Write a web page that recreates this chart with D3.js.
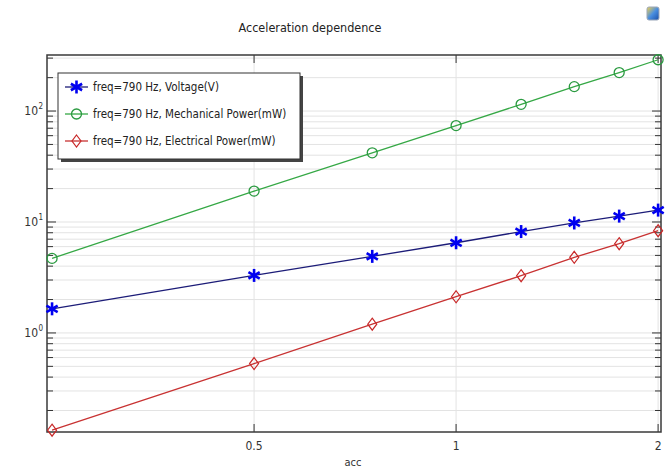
<!DOCTYPE html>
<html>
<head>
<meta charset="utf-8">
<script src="https://cdn.jsdelivr.net/npm/d3@7"></script>
<style>
  body { margin: 0; background: #fff; }
  svg { display: block; font-family: "DejaVu Sans Condensed", "DejaVu Sans", sans-serif; }
</style>
</head>
<body>
<div id="chart"></div>
<script>
'use strict';

/*** Data */
const acc = [0.25, 0.5, 0.75, 1, 1.25, 1.5, 1.75, 2];
const voltage = [1.65, 3.3, 4.9, 6.5, 8.2, 9.8, 11.3, 12.8];
const mechPower = [4.7, 19, 42, 74, 115, 166, 222, 290];
const elecPower = [0.133, 0.53, 1.2, 2.12, 3.28, 4.8, 6.37, 8.35];

const seriesNames = [
    'freq=790 Hz, Voltage(V)',
    'freq=790 Hz, Mechanical Power(mW)',
    'freq=790 Hz, Electrical Power(mW)'
];
const xTicks = [0.5, 1, 2];
const xTickLabels = ['0.5', '1', '2'];
const yTicks = [1, 10, 100];
const yTickExp = ['0', '1', '2'];

/*** Layout */
const w = 669;
const h = 471;
const pLeft = 47, pRight = 661, pTop = 55, pBottom = 432;

const svg = d3.select('#chart').append('svg')
    .attr('width', w)
    .attr('height', h);

/* Scales */
const xScale = d3.scaleLog().domain([0.2457, 2.02]).range([pLeft, pRight]);
const yScale = d3.scaleLog().domain([0.128, 320]).range([pBottom, pTop]);

/* minor log ticks inside the y domain */
const yMinor = [];
[0.1, 1, 10, 100].forEach(d => {
    for (let k = 1; k <= 9; k++) {
        const v = d * k;
        if (v >= yScale.domain()[0] && v <= yScale.domain()[1]) yMinor.push(v);
    }
});

/** Grid */
svg.append('g').selectAll('line')
    .data(yMinor)
    .join('line')
    .attr('x1', pLeft).attr('x2', pRight)
    .attr('y1', d => yScale(d)).attr('y2', d => yScale(d))
    .attr('stroke', '#e3e3e3')
    .attr('stroke-width', 1);

svg.append('g').selectAll('line')
    .data(xTicks)
    .join('line')
    .attr('x1', d => xScale(d)).attr('x2', d => xScale(d))
    .attr('y1', pTop).attr('y2', pBottom)
    .attr('stroke', '#e3e3e3')
    .attr('stroke-width', 1);

/** Ticks (inward, on all four sides) */
const isMajor = v => yTicks.some(t => Math.abs(t - v) < 1e-9);
const tickG = svg.append('g').attr('stroke', '#333').attr('stroke-width', 1);
tickG.selectAll('.yl')
    .data(yMinor)
    .join('line')
    .attr('x1', pLeft).attr('x2', d => pLeft + (isMajor(d) ? 9 : 6))
    .attr('y1', d => yScale(d)).attr('y2', d => yScale(d));
tickG.selectAll('.yr')
    .data(yMinor)
    .join('line')
    .attr('x1', pRight).attr('x2', d => pRight - (isMajor(d) ? 9 : 6))
    .attr('y1', d => yScale(d)).attr('y2', d => yScale(d));
tickG.selectAll('.xb')
    .data(xTicks)
    .join('line')
    .attr('x1', d => xScale(d)).attr('x2', d => xScale(d))
    .attr('y1', pBottom).attr('y2', pBottom - 8);
tickG.selectAll('.xt')
    .data(xTicks)
    .join('line')
    .attr('x1', d => xScale(d)).attr('x2', d => xScale(d))
    .attr('y1', pTop).attr('y2', pTop + 8);

/** Frame */
svg.append('rect')
    .attr('x', pLeft).attr('y', pTop)
    .attr('width', pRight - pLeft).attr('height', pBottom - pTop)
    .attr('fill', 'none')
    .attr('stroke', '#3a3a3a')
    .attr('stroke-width', 1.5);

/** Tick labels */
svg.append('g').selectAll('text')
    .data(xTicks)
    .join('text')
    .attr('x', d => xScale(d))
    .attr('y', pBottom + 18)
    .attr('text-anchor', 'middle')
    .attr('font-size', 12)
    .attr('fill', '#333')
    .text((d, i) => xTickLabels[i]);

svg.append('g').selectAll('text')
    .data(yTicks)
    .join('text')
    .attr('x', 38)
    .attr('y', d => yScale(d) + 4)
    .attr('text-anchor', 'end')
    .attr('font-size', 12)
    .attr('fill', '#333')
    .text('10');
svg.append('g').selectAll('text')
    .data(yTicks)
    .join('text')
    .attr('x', 38.5)
    .attr('y', d => yScale(d) - 2)
    .attr('font-size', 8)
    .attr('fill', '#333')
    .text((d, i) => yTickExp[i]);

/** Axis title and chart title */
svg.append('text')
    .attr('x', 353).attr('y', 466)
    .attr('text-anchor', 'middle')
    .attr('font-size', 11)
    .attr('fill', '#333')
    .text('acc');

svg.append('text')
    .attr('x', 310).attr('y', 32)
    .attr('text-anchor', 'middle')
    .attr('font-size', 12.5)
    .attr('fill', '#222')
    .text('Acceleration dependence');

/* little toolbar icon at the top right */
const grad = svg.append('defs').append('linearGradient')
    .attr('id', 'icon').attr('x1', 0).attr('y1', 0).attr('x2', 1).attr('y2', 1);
grad.append('stop').attr('offset', 0).attr('stop-color', '#f6d24a');
grad.append('stop').attr('offset', 0.5).attr('stop-color', '#4a8fe0');
grad.append('stop').attr('offset', 1).attr('stop-color', '#1a4fa8');
svg.append('rect')
    .attr('x', 647).attr('y', 7).attr('width', 12).attr('height', 13)
    .attr('rx', 2)
    .attr('fill', 'url(#icon)')
    .attr('stroke', '#9aa6b8');

/** Series */
const series = [
    { name: seriesNames[0], values: voltage, line: '#1c1c78', mark: '#0000f0', shape: 'star' },
    { name: seriesNames[1], values: mechPower, line: '#35a845', mark: '#2a9a40', shape: 'circle' },
    { name: seriesNames[2], values: elecPower, line: '#c83232', mark: '#c82828', shape: 'diamond' }
];

const lineGen = d3.line()
    .x((d, i) => xScale(acc[i]))
    .y(d => yScale(d));

function drawMarker(g, shape, color, x, y) {
    if (shape === 'star') {
        const r = 6.5;
        [90, 30, 150].forEach(a => {
            const rad = a * Math.PI / 180;
            g.append('line')
                .attr('x1', x - r * Math.cos(rad)).attr('y1', y - r * Math.sin(rad))
                .attr('x2', x + r * Math.cos(rad)).attr('y2', y + r * Math.sin(rad))
                .attr('stroke', color).attr('stroke-width', 2.6);
        });
    } else if (shape === 'circle') {
        g.append('circle')
            .attr('cx', x).attr('cy', y).attr('r', 5)
            .attr('fill', 'none').attr('stroke', color).attr('stroke-width', 1.3);
    } else {
        g.append('path')
            .attr('d', `M${x},${y - 6}L${x + 4.5},${y}L${x},${y + 6}L${x - 4.5},${y}Z`)
            .attr('fill', 'none').attr('stroke', color).attr('stroke-width', 1.2);
    }
}

const plot = svg.append('g');
series.forEach(s => {
    plot.append('path')
        .datum(s.values)
        .attr('d', lineGen)
        .attr('fill', 'none')
        .attr('stroke', s.line)
        .attr('stroke-width', 1.3);
    s.values.forEach((v, i) => drawMarker(plot, s.shape, s.mark, xScale(acc[i]), yScale(v)));
});

/** Legend */
const lg = svg.append('g');
lg.append('rect')
    .attr('x', 61).attr('y', 76).attr('width', 242).attr('height', 86)
    .attr('fill', '#444');
lg.append('rect')
    .attr('x', 58).attr('y', 73).attr('width', 242).attr('height', 86)
    .attr('fill', '#fff')
    .attr('stroke', '#333')
    .attr('stroke-width', 1);

series.forEach((s, i) => {
    const yy = 87 + i * 27;
    lg.append('line')
        .attr('x1', 65).attr('x2', 88)
        .attr('y1', yy).attr('y2', yy)
        .attr('stroke', s.line).attr('stroke-width', 1.3);
    drawMarker(lg, s.shape, s.mark, 76.5, yy);
    lg.append('text')
        .attr('x', 93).attr('y', yy + 4)
        .attr('font-size', 11.5)
        .attr('fill', '#222')
        .text(s.name);
});
</script>
</body>
</html>
